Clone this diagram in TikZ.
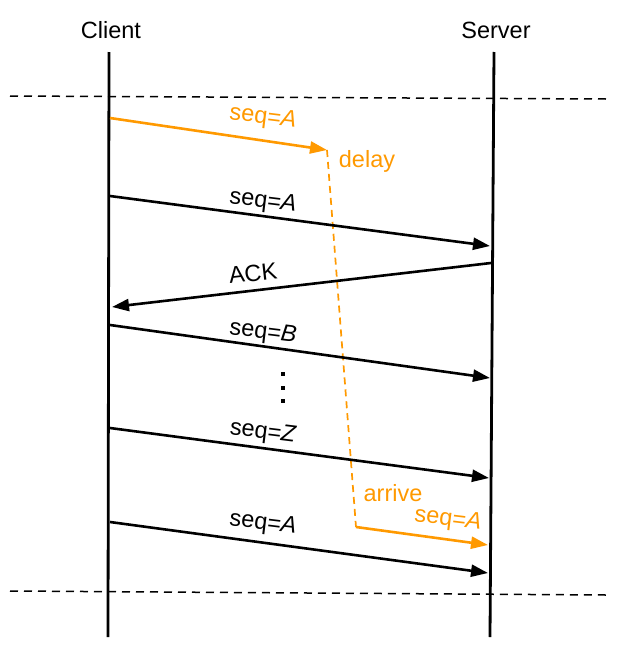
\documentclass[tikz,border=0pt]{standalone}
\usepackage{fontspec}
\setmainfont{Liberation Sans}
\usetikzlibrary{arrows.meta}
\definecolor{orng}{RGB}{255,153,0}
\begin{document}
\begin{tikzpicture}[x=1pt,y=-1pt,
  life/.style={line width=2.8pt},
  msg/.style={line width=2.6pt,-{Triangle[length=17pt,width=12pt]}},
  sep/.style={line width=1.5pt,dash pattern=on 8pt off 6pt},
  lbl/.style={font=\fontsize{23.5}{27}\selectfont,inner sep=0pt},
  hdr/.style={font=\fontsize{23.5}{27}\selectfont,inner sep=0pt},
  dotn/.style={fill,rectangle,inner sep=0pt,minimum size=4pt}]
\useasboundingbox (0,0) rectangle (629,664);
% headers
\node[hdr] (client) at (111,30) {Client};
\node[hdr] (server) at (496,30) {Server};
% lifelines
\coordinate (ct) at (109,52);
\coordinate (cb) at (108,637);
\coordinate (st) at (494,52);
\coordinate (sb) at (490,637);
\draw[life] (ct) -- (cb);
\draw[life] (st) -- (sb);
% separators
\coordinate (t1) at (10,96);
\coordinate (t2) at (606,99);
\coordinate (b1) at (10,591);
\coordinate (b2) at (606,595);
\draw[sep] (t1) -- (t2);
\draw[sep] (b1) -- (b2);
% orange delayed packet
\coordinate (o1) at (110,118);
\coordinate (o2) at (327,150);
\coordinate (o3) at (356,527);
\coordinate (o4) at (488,545);
\draw[msg,orng] (o1) -- (o2);
\draw[orng,line width=1.7pt,dash pattern=on 7pt off 5pt] (o2) -- (o3);
\draw[msg,orng] (o3) -- (o4);
\node[lbl,orng,rotate=-7] (ol1) at (263,118) {seq=\textit{A}};
\node[lbl,orng] (dl) at (367,161) {delay};
\node[lbl,orng] (ar) at (393,493) {arrive};
\node[lbl,orng,rotate=-7] (ol2) at (448,520) {seq=\textit{A}};
% black messages
\coordinate (a1) at (110,196);
\coordinate (a2) at (490,246);
\draw[msg] (a1) -- (a2);
\node[lbl,rotate=-7] (la) at (263,202) {seq=\textit{A}};
\coordinate (k1) at (491,263);
\coordinate (k2) at (112,307);
\draw[msg] (k1) -- (k2);
\node[lbl,rotate=6.5] (lk) at (253,273) {ACK};
\coordinate (b1m) at (110,325);
\coordinate (b2m) at (490,378);
\draw[msg] (b1m) -- (b2m);
\node[lbl,rotate=-7] (lb) at (263,333) {seq=\textit{B}};
\node[dotn] (d1) at (283,374) {};
\node[dotn] (d2) at (283,388) {};
\node[dotn] (d3) at (283,401) {};
\coordinate (z1) at (110,428);
\coordinate (z2) at (489,478);
\draw[msg] (z1) -- (z2);
\node[lbl,rotate=-7] (lz) at (263,433) {seq=\textit{Z}};
\coordinate (r1) at (110,522);
\coordinate (r2) at (488,573);
\draw[msg] (r1) -- (r2);
\node[lbl,rotate=-7] (lr) at (263,524) {seq=\textit{A}};
\end{tikzpicture}
\end{document}
